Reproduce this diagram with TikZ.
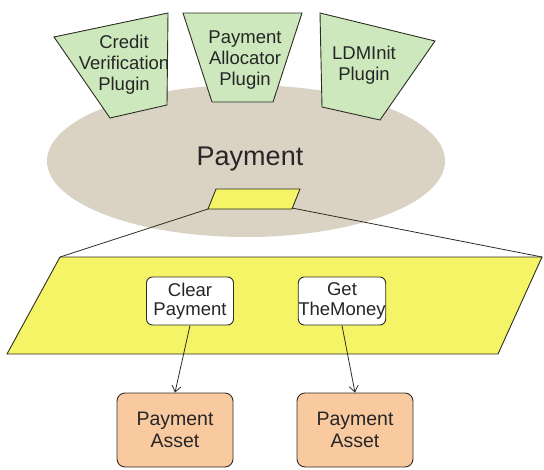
\documentclass[tikz,border=0pt]{standalone}
\usepackage{fontspec}
\setmainfont{Liberation Sans}
\usetikzlibrary{arrows.meta}
\definecolor{plugingreen}{RGB}{204,232,188}
\definecolor{ovalbeige}{RGB}{218,211,196}
\definecolor{paneyellow}{RGB}{244,244,102}
\definecolor{assetorange}{RGB}{249,202,160}
\definecolor{edgegray}{RGB}{45,45,35}

\begin{document}
\begin{tikzpicture}[x=1pt,y=-1pt,>={Straight Barb[length=6pt,width=9pt]},
  plugin/.style={draw=edgegray,fill=plugingreen,line width=0.9pt},
  pane/.style={draw=edgegray,fill=paneyellow,line width=0.9pt},
  plugtext/.style={align=center,text=black!85,font=\fontsize{18.5}{21}\selectfont},
  opbox/.style={draw=edgegray,fill=white,rounded corners=6pt,line width=0.9pt,
    minimum width=87pt,minimum height=48pt,inner sep=0pt,align=center,
    text=black!85,font=\fontsize{18.5}{19.5}\selectfont},
  assetbox/.style={draw=edgegray,fill=assetorange,rounded corners=8pt,line width=0.9pt,
    minimum width=116pt,minimum height=74pt,inner sep=0pt,align=center,
    text=black!85,font=\fontsize{19.5}{22}\selectfont}]

\useasboundingbox (0,0) rectangle (544,469);

\fill [ovalbeige] (246,161) ellipse [x radius=199, y radius=76];%oval
\node [font=\fontsize{27}{30}\selectfont,text=black!85] (payment) at (250,159) {Payment};

% plugins
\draw [plugin] (54,37)--(168,13)--(167,105)--(110,118)--cycle;
\node [plugtext] (credit) at (124,65) {Credit\\Verification\\Plugin};
\draw [plugin] (183,13)--(302,13)--(273,102)--(212,102)--cycle;
\node [plugtext] (alloc) at (245,60) {Payment\\Allocator\\Plugin};
\draw [plugin] (320,13)--(435,41)--(380,120)--(322,107)--cycle;
\node [plugtext] (ldm) at (364,65) {LDMInit\\Plugin};

% small pane and its zoom
\draw [pane] (216,189)--(300,189)--(292,209)--(208,209)--cycle;
\coordinate (sl) at (208,209);
\coordinate (sr) at (292,208);
\draw [pane] (60,257)--(542,257)--(498,354)--(7,354)--cycle;
\coordinate (bl) at (60,257);
\coordinate (br) at (542,257);
\draw [edgegray,line width=0.8pt] (sl)--(bl);
\draw [edgegray,line width=0.8pt] (sr)--(br);

\node [opbox] (clear) at (190,301) {Clear\\Payment};
\node [opbox] (getmoney) at (342,301) {Get\\TheMoney};

\node [assetbox] (asset1) at (175,430) {Payment\\Asset};
\node [assetbox] (asset2) at (355,430) {Payment\\Asset};

\draw [->,edgegray,line width=0.8pt] (clear.south)--(asset1.north);
\draw [->,edgegray,line width=0.8pt] (getmoney.south)--(asset2.north);

\end{tikzpicture}
\end{document}
